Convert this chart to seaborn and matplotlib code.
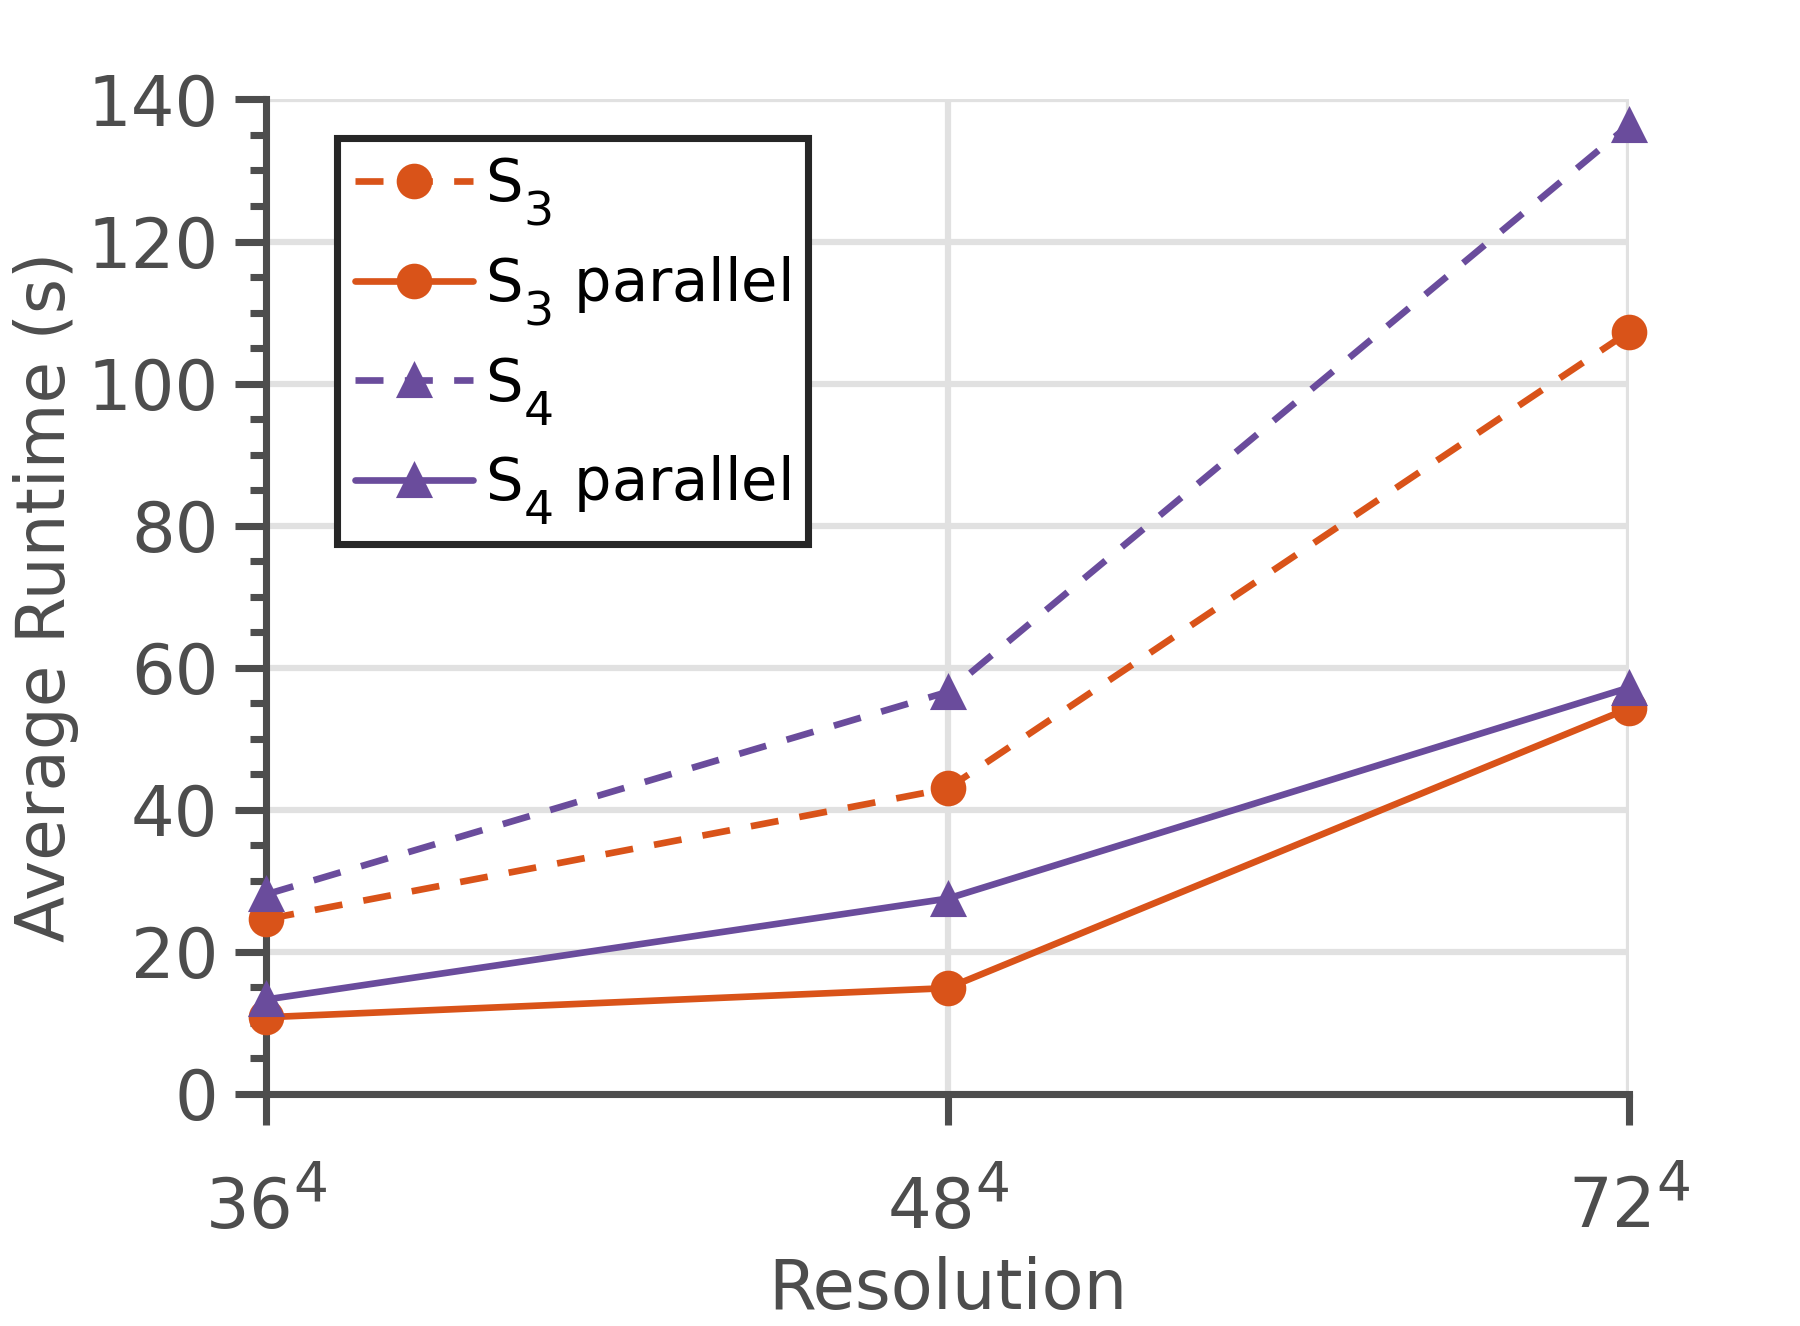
import numpy as np
import pandas as pd
import matplotlib
matplotlib.use("Agg")
import matplotlib.pyplot as plt
import matplotlib._mathtext as mtext
import seaborn as sns
from matplotlib.ticker import MultipleLocator

# Data
resolutions = ["$36^4$", "$48^4$", "$72^4$"]
s3 = [24.6, 43.0, 107.3]
s3_parallel = [10.8, 14.9, 54.3]
s4 = [28.1, 56.6, 136.4]
s4_parallel = [13.3, 27.5, 57.2]

orange = "#d95319"
purple = "#6a4c9c"
grey = "#4d4d4d"

sns.set_theme(style="ticks")
plt.rcParams["font.family"] = ["DejaVu Sans"]
plt.rcParams["mathtext.fontset"] = "dejavusans"
plt.rcParams["mathtext.default"] = "regular"

# bigger, lower sub/superscripts like the original
mtext.SHRINK_FACTOR = 0.8
for cls in (mtext.FontConstantsBase, mtext.DejaVuSansFontConstants):
    cls.sub1 = 0.75
    cls.sub2 = 0.9

x = np.arange(len(resolutions))
df = pd.DataFrame({"x": x, "S3": s3, "S3p": s3_parallel,
                   "S4": s4, "S4p": s4_parallel})

fig = plt.figure(figsize=(6, 4.42), dpi=300)
ax = fig.add_axes([0.148, 0.175, 0.757, 0.75])

dash = (0, (4.2, 3.2))
series = [
    ("S3", "$S_3$", orange, "o", dash),
    ("S3p", "$S_3$ parallel", orange, "o", "-"),
    ("S4", "$S_4$", purple, "^", dash),
    ("S4p", "$S_4$ parallel", purple, "^", "-"),
]
for col, label, color, marker, ls in series:
    sns.lineplot(data=df, x="x", y=col, ax=ax, color=color, marker=marker,
                 markersize=7.8, markeredgecolor=color, linewidth=1.6,
                 linestyle=ls, label=label, zorder=3, clip_on=False)

ax.set_xlim(0, len(resolutions) - 1)
ax.set_ylim(0, 140)
ax.set_xticks(x)
ax.set_xticklabels(resolutions)
ax.yaxis.set_major_locator(MultipleLocator(20))
ax.yaxis.set_minor_locator(MultipleLocator(5))

ax.grid(True, color="#e1e1e1", linewidth=1.5, zorder=0)
ax.set_axisbelow(True)

for side in ["top", "right"]:
    ax.spines[side].set_visible(False)
for side in ["left", "bottom"]:
    ax.spines[side].set_color(grey)
    ax.spines[side].set_linewidth(1.7)

ax.tick_params(axis="both", which="major", length=7.5, width=1.7,
               color=grey, labelcolor=grey, labelsize=16.5)
ax.tick_params(axis="y", which="minor", length=3.8, width=1.7, color=grey)
ax.tick_params(axis="y", which="major", pad=4)
ax.tick_params(axis="x", which="major", pad=11)

ax.set_xlabel("Resolution", fontsize=16.5, color=grey, labelpad=3)
ax.set_ylabel("Average Runtime (s)", fontsize=16.2, color=grey, labelpad=2)

leg = ax.legend(loc="upper left", bbox_to_anchor=(0.052, 0.961),
                borderaxespad=0, fontsize=14.2, frameon=True, fancybox=False,
                handlelength=2.0, labelspacing=0.45, handletextpad=0.2,
                borderpad=0.3, labelcolor="black")
leg.get_frame().set_edgecolor("#262626")
leg.get_frame().set_linewidth(1.7)
leg.get_frame().set_alpha(1)

fig.savefig("out.png", dpi=300)
